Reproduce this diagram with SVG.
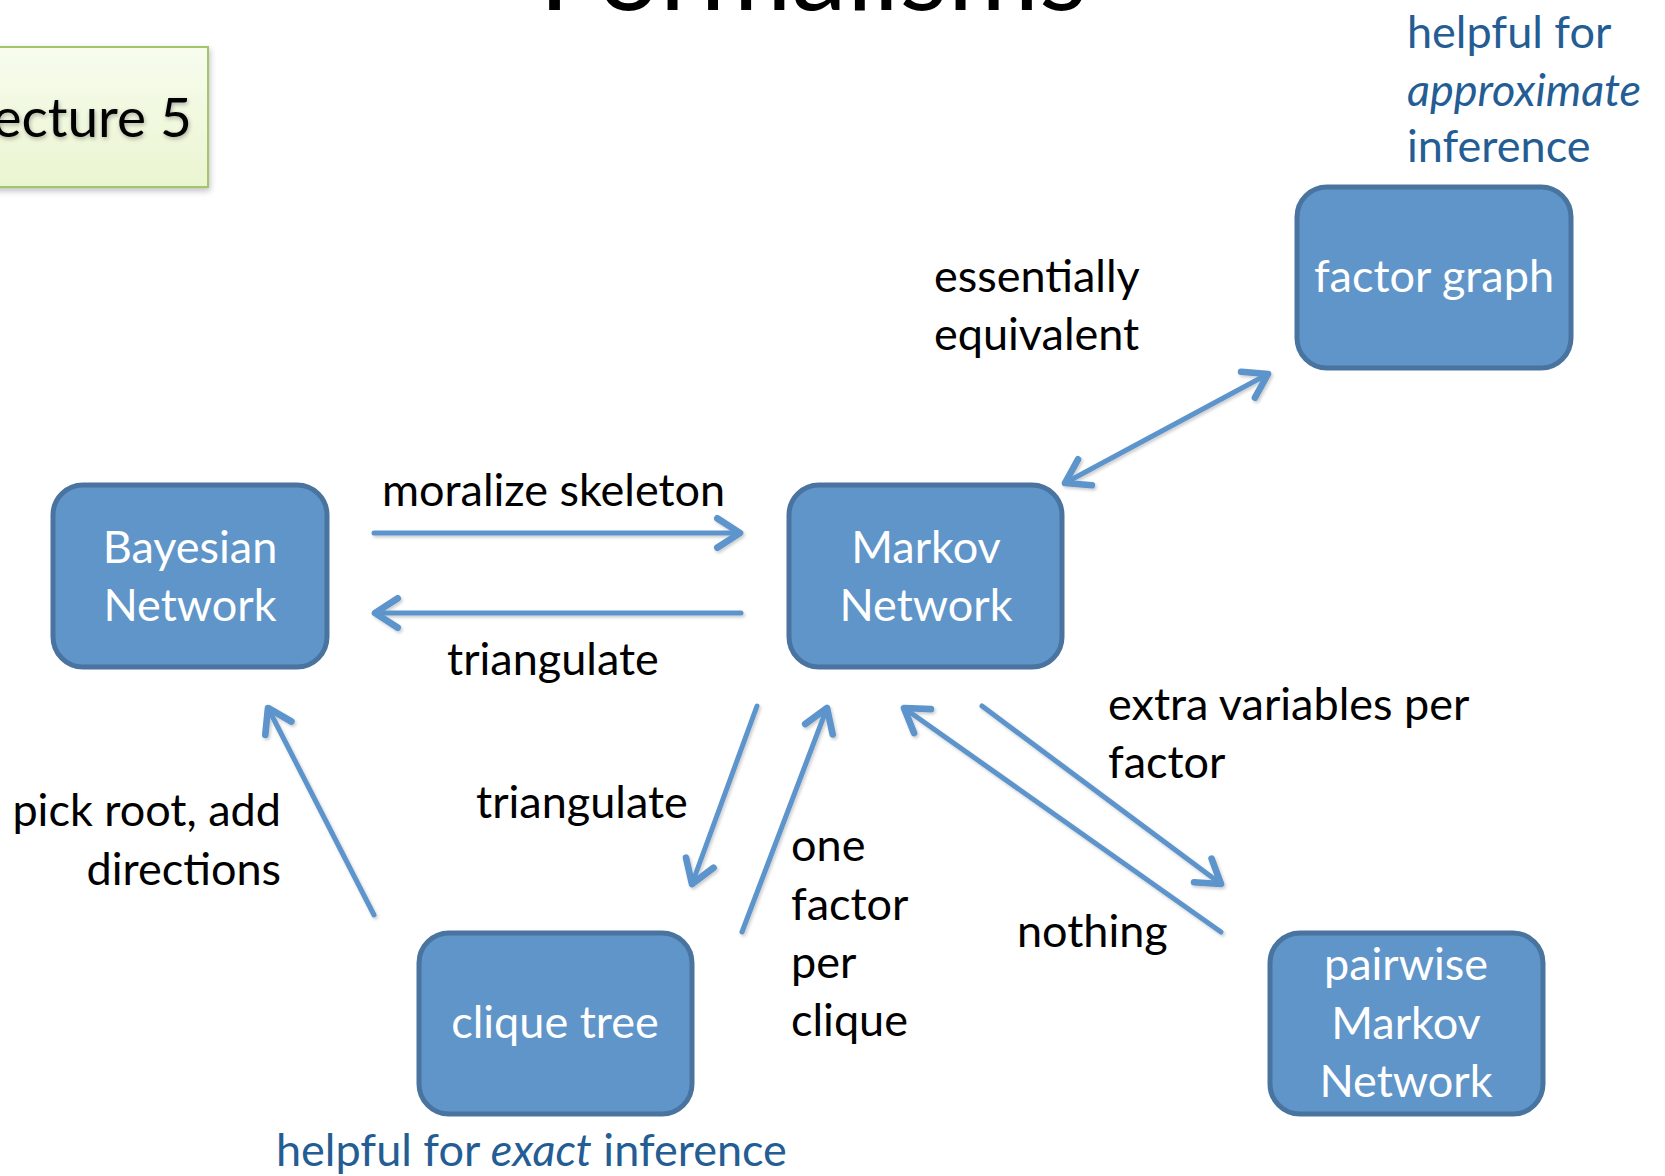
<svg xmlns="http://www.w3.org/2000/svg" width="1665" height="1176" viewBox="0 0 1665 1176">
  <style>
    text { font-family: Lato, "Open Sans", "Liberation Sans", sans-serif; font-size: 45px; }
    .lbl { fill: #000000; }
    .note { fill: #245d93; }
    .node rect { fill: #6095c9; stroke: #4a74a0; stroke-width: 5; }
    .node text { fill: #ffffff; text-anchor: middle; }
    .conn path { fill: none; stroke: #5d94cb; stroke-width: 5; stroke-linecap: round; marker-end: url(#head); }
  </style>
  <defs>
    <marker id="head" markerUnits="userSpaceOnUse" markerWidth="40" markerHeight="40" viewBox="-25 -15 30 30" refX="0" refY="0" orient="auto-start-reverse" overflow="visible">
      <path d="M-17,-11 L0,0 L-17,11" fill="none" stroke="#5d94cb" stroke-width="5" stroke-linecap="round" stroke-linejoin="round"/>
    </marker>
    <linearGradient id="tag" x1="0" y1="0" x2="0" y2="1">
      <stop offset="0" stop-color="#f7fcee"/>
      <stop offset="1" stop-color="#eaf5d0"/>
    </linearGradient>
    <filter id="soft" filterUnits="userSpaceOnUse" x="0" y="0" width="1665" height="1176">
      <feDropShadow dx="1.5" dy="2" stdDeviation="1.5" flood-color="#000" flood-opacity="0.2"/>
    </filter>
    <filter id="tagshadow" x="-20%" y="-20%" width="140%" height="150%">
      <feDropShadow dx="1" dy="3" stdDeviation="3" flood-color="#000" flood-opacity="0.25"/>
    </filter>
    <filter id="glow" x="-10%" y="-30%" width="120%" height="160%">
      <feDropShadow dx="1" dy="2" stdDeviation="2" flood-color="#000" flood-opacity="0.3"/>
    </filter>
  </defs>

  <rect width="1665" height="1176" fill="#ffffff"/>

  <!-- slide title, mostly above the top edge -->
  <text x="813" y="10" text-anchor="middle" style="font-size:111px" fill="#000">Formalisms</text>

  <!-- lecture tag -->
  <g id="lecture-tag">
    <rect x="-20" y="47" width="228" height="140" fill="url(#tag)" stroke="#a5c46e" stroke-width="2" filter="url(#tagshadow)"/>
    <text x="192" y="137" text-anchor="end" style="font-size:55px" fill="#000" filter="url(#glow)">Lecture 5</text>
  </g>

  <!-- side notes -->
  <text class="note" x="1407" y="48">helpful for</text>
  <text class="note" x="1407" y="106" font-style="italic">approximate</text>
  <text class="note" x="1407" y="162">inference</text>
  <text class="note" x="276" y="1166">helpful for <tspan font-style="italic">exact</tspan> inference</text>

  <!-- nodes -->
  <g id="bayesian-network" class="node">
    <rect x="53" y="485" width="274" height="182" rx="30"/>
    <text x="190" y="563">Bayesian</text>
    <text x="190" y="621">Network</text>
  </g>
  <g id="markov-network" class="node">
    <rect x="789" y="485" width="273" height="182" rx="30"/>
    <text x="926" y="563">Markov</text>
    <text x="926" y="621">Network</text>
  </g>
  <g id="factor-graph" class="node">
    <rect x="1297" y="187" width="274" height="181" rx="30"/>
    <text x="1434" y="292">factor graph</text>
  </g>
  <g id="clique-tree" class="node">
    <rect x="419" y="933" width="273" height="181" rx="30"/>
    <text x="555" y="1038">clique tree</text>
  </g>
  <g id="pairwise-markov-network" class="node">
    <rect x="1270" y="933" width="273" height="181" rx="30"/>
    <text x="1406" y="980">pairwise</text>
    <text x="1406" y="1039">Markov</text>
    <text x="1406" y="1097">Network</text>
  </g>

  <!-- connectors -->
  <g id="connectors" class="conn" filter="url(#soft)">
    <path d="M374,533 L740,533"/>
    <path d="M741,613 L375,613"/>
    <path d="M1065,483 L1268,374" marker-start="url(#head)"/>
    <path d="M374,915 L268,708"/>
    <path d="M757,706 L692,884"/>
    <path d="M742,932 L827,708"/>
    <path d="M1221,932 L904,708"/>
    <path d="M982,706 L1221,884"/>
  </g>

  <!-- connector labels -->
  <g id="labels" class="lbl">
    <text x="382" y="506">moralize skeleton</text>
    <text x="447" y="675">triangulate</text>
    <text x="934" y="292">essentially</text>
    <text x="934" y="350">equivalent</text>
    <text x="281" y="826" text-anchor="end">pick root, add</text>
    <text x="281" y="885" text-anchor="end">directions</text>
    <text x="476" y="818">triangulate</text>
    <text x="791" y="861">one</text>
    <text x="791" y="920">factor</text>
    <text x="791" y="978">per</text>
    <text x="791" y="1036">clique</text>
    <text x="1108" y="720">extra variables per</text>
    <text x="1108" y="778">factor</text>
    <text x="1017" y="947">nothing</text>
  </g>
</svg>
